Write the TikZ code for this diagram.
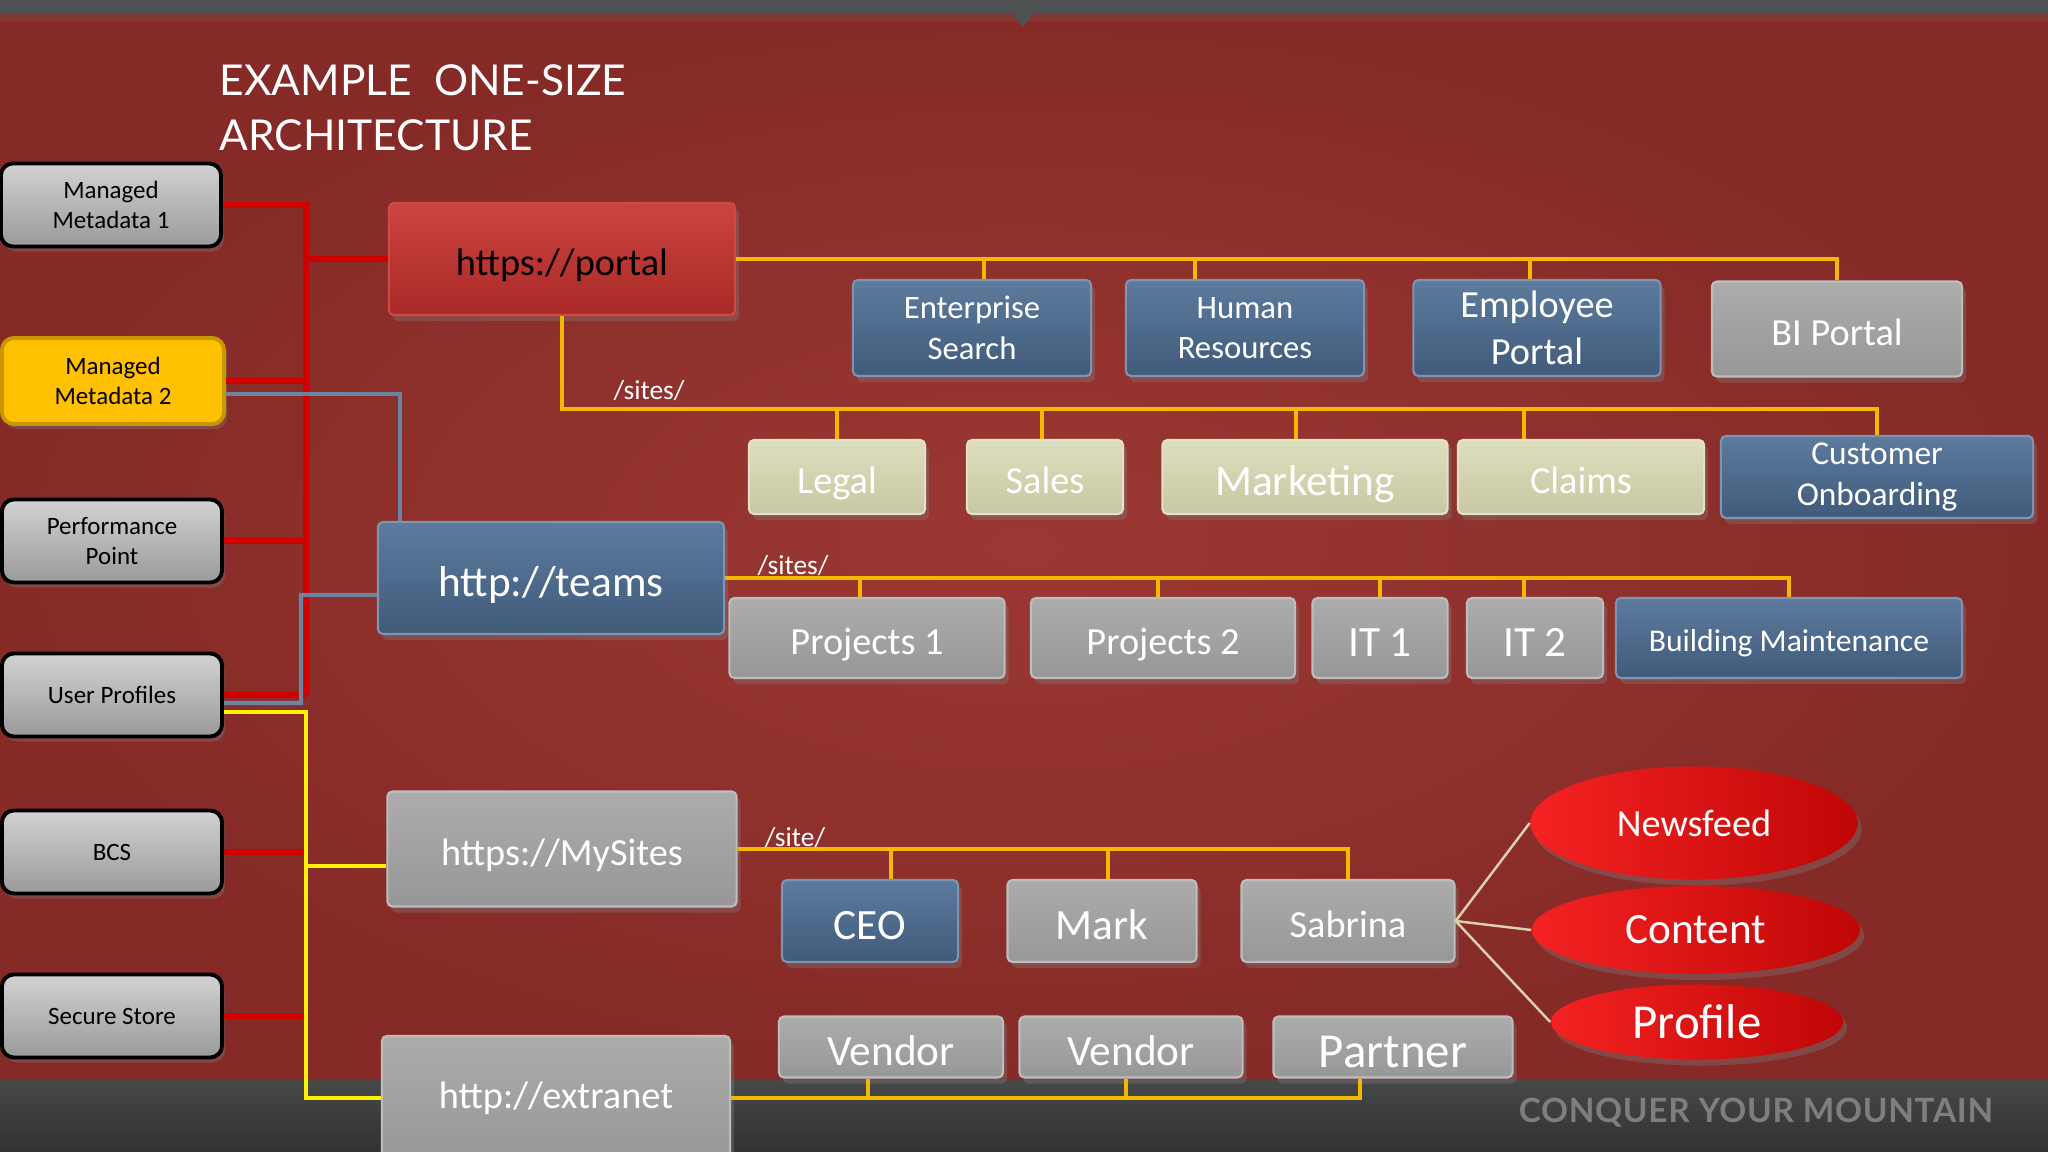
\documentclass[tikz,border=0pt]{standalone}
\usepackage{fontspec}
\setmainfont{Carlito}
\newfontfamily\titlefont{Lato}
\newfontfamily\footfont[LetterSpace=2]{Lato}
\usetikzlibrary{positioning,shapes.geometric,shadows}

\definecolor{bgred}{HTML}{8E2F2B}
\definecolor{bglight}{HTML}{9C3833}
\definecolor{bgdark}{HTML}{852A27}
\definecolor{topgray}{HTML}{4F5252}
\definecolor{bandtop}{HTML}{474949}
\definecolor{bandbot}{HTML}{303232}
\definecolor{lefttop}{HTML}{D2D2D2}
\definecolor{leftbot}{HTML}{9A9A9A}
\definecolor{mmgold}{HTML}{FFC000}
\definecolor{mmedge}{HTML}{C99700}
\definecolor{portaltop}{HTML}{CC4440}
\definecolor{portalbot}{HTML}{A92926}
\definecolor{portaledge}{HTML}{D04A45}
\definecolor{bluetop}{HTML}{5D7B9E}
\definecolor{bluebot}{HTML}{405A7A}
\definecolor{blueedge}{HTML}{7D95B3}
\definecolor{graytop}{HTML}{ACACAC}
\definecolor{graybot}{HTML}{979797}
\definecolor{grayedge}{HTML}{BDBDBD}
\definecolor{tantop}{HTML}{DEDDBD}
\definecolor{tanbot}{HTML}{C9C8A4}
\definecolor{tanedge}{HTML}{E2E2C8}
\definecolor{ovalleft}{HTML}{F52222}
\definecolor{ovalright}{HTML}{BF0606}
\definecolor{linkred}{HTML}{D00000}
\definecolor{linkblue}{HTML}{6B84A0}
\definecolor{linkyellow}{HTML}{FFF200}
\definecolor{busorange}{HTML}{F5B800}
\definecolor{linktan}{HTML}{DDD0B0}
\definecolor{footgray}{HTML}{7D7F7F}

\begin{document}
\begin{tikzpicture}[x=0.01cm, y=-0.01cm,
every node/.style={inner sep=0pt, align=center},
left node/.style={rectangle, rounded corners=0.12cm, draw=black, line width=1.1pt,
  top color=lefttop, bottom color=leftbot, text=black,
  minimum width=2.2cm, minimum height=0.83cm, font=\fontsize{7.1}{8.6}\selectfont,
  drop shadow={opacity=0.35, shadow xshift=0.03cm, shadow yshift=-0.05cm}},
site node/.style={rectangle, rounded corners=0.05cm, text=white, line width=0.6pt,
  drop shadow={opacity=0.35, shadow xshift=0.04cm, shadow yshift=-0.06cm}},
blue node/.style={site node, top color=bluetop, bottom color=bluebot, draw=blueedge},
gray node/.style={site node, top color=graytop, bottom color=graybot, draw=grayedge},
tan node/.style={site node, top color=tantop, bottom color=tanbot, draw=tanedge},
oval node/.style={ellipse, left color=ovalleft, right color=ovalright, text=white,
  drop shadow={opacity=0.35, shadow xshift=0.04cm, shadow yshift=-0.06cm}},
small text/.style={font=\fontsize{9.3}{11.5}\selectfont},
mid text/.style={font=\fontsize{10.9}{13.4}\selectfont},
large text/.style={font=\fontsize{12.3}{14}\selectfont},
huge text/.style={font=\fontsize{13.9}{16}\selectfont},
small line/.style={font=\fontsize{9}{11}\selectfont, text depth=0pt, text height=7.6pt},
mid line/.style={mid text, text depth=0pt, text height=9.2pt},
large line/.style={large text, text depth=0pt, text height=10.3pt},
huge line/.style={huge text, text depth=0pt, text height=11.7pt},
red link/.style={draw=linkred, line width=1.5pt},
blue link/.style={draw=linkblue, line width=1.15pt},
yellow link/.style={draw=linkyellow, line width=1.4pt},
bus link/.style={draw=busorange, line width=1.3pt},
drop link/.style={draw=busorange, line width=0.9pt},
tan link/.style={draw=linktan, line width=0.7pt},
path label/.style={text=white, font=\fontsize{7.8}{9}\selectfont}]

% canvas
\path[use as bounding box] (0,0) rectangle (2048,1152);
\clip (0,0) rectangle (2048,1152);
\fill[bgred] (0,0) rectangle (2048,1152);
\shade[inner color=bglight, outer color=bgdark] (0,14) rectangle (2048,1080);
\shade[top color=topgray, bottom color=bgred] (0,0) rectangle (2048,22);
\fill[topgray] (0,0) rectangle (2048,13);
\fill[topgray] (1011,12) -- (1035,12) -- (1023,27) -- cycle;
\shade[top color=bandtop, bottom color=bandbot] (0,1080) rectangle (2048,1152);

\node[anchor=north west, align=left, text=white,
  font=\titlefont\fontsize{12.1}{15.6}\selectfont] (title) at (219,64)
  {EXAMPLE\ \ ONE-SIZE\\ARCHITECTURE};
\node[text=footgray, font=\footfont\bfseries\fontsize{9.5}{11}\selectfont] (slogan) at (1756,1113)
  {CONQUER YOUR MOUNTAIN};

% service applications
\node[left node] (mm1) at (111,205) {Managed\\Metadata 1};
\node[left node, top color=mmgold, bottom color=mmgold, draw=mmedge,
  minimum width=2.22cm, minimum height=0.86cm] (mm2) at (113,381) {Managed\\Metadata 2};
\node[left node] (pp) at (112,541) {Performance\\Point};
\node[left node] (up) at (112,695) {User Profiles};
\node[left node] (bcs) at (112,852) {BCS};
\node[left node] (ss) at (112,1016) {Secure Store};

% web applications
\node[site node, top color=portaltop, bottom color=portalbot, draw=portaledge, text=black,
  mid line, minimum width=3.46cm, minimum height=1.12cm] (portal) at (562,259) {https://portal};
\node[blue node, large line, minimum width=3.46cm, minimum height=1.12cm] (teams) at (551,578) {http://teams};
\node[gray node, mid line, minimum width=3.49cm, minimum height=1.15cm] (mysites) at (562,849) {https://MySites};
\node[gray node, mid text, minimum width=3.48cm, minimum height=1.24cm] (extranet) at (556,1098) {http://extranet};

% portal sites
\node[blue node, small text, minimum width=2.38cm, minimum height=0.96cm] (es) at (972,328) {Enterprise\\Search};
\node[blue node, small text, minimum width=2.38cm, minimum height=0.96cm] (hr) at (1245,328) {Human\\Resources};
\node[blue node, mid text, minimum width=2.47cm, minimum height=0.96cm] (ep) at (1537,328) {Employee\\Portal};
\node[gray node, mid line, minimum width=2.5cm, minimum height=0.95cm] (bi) at (1837,329) {BI Portal};

\node[tan node, mid line, minimum width=1.76cm, minimum height=0.74cm] (legal) at (837,477) {Legal};
\node[tan node, mid line, minimum width=1.56cm, minimum height=0.74cm] (sales) at (1045,477) {Sales};
\node[tan node, large line, minimum width=2.85cm, minimum height=0.74cm] (mkt) at (1305,477) {Marketing};
\node[tan node, mid line, minimum width=2.46cm, minimum height=0.74cm] (claims) at (1581,477) {Claims};
\node[blue node, font=\fontsize{9.5}{11.9}\selectfont, minimum width=3.12cm, minimum height=0.82cm] (co) at (1877,477) {Customer\\Onboarding};

% team sites
\node[gray node, mid line, minimum width=2.75cm, minimum height=0.8cm] (p1) at (867,638) {Projects 1};
\node[gray node, mid line, minimum width=2.64cm, minimum height=0.8cm] (p2) at (1163,638) {Projects 2};
\node[gray node, large line, minimum width=1.35cm, minimum height=0.8cm] (it1) at (1380,638) {IT 1};
\node[gray node, large line, minimum width=1.36cm, minimum height=0.8cm] (it2) at (1535,638) {IT 2};
\node[blue node, small line, minimum width=3.46cm, minimum height=0.8cm] (bm) at (1789,638) {Building Maintenance};

% my sites
\node[blue node, large line, minimum width=1.76cm, minimum height=0.82cm] (ceo) at (870,921) {CEO};
\node[gray node, large line, minimum width=1.89cm, minimum height=0.82cm] (mark) at (1102,921) {Mark};
\node[gray node, mid line, minimum width=2.13cm, minimum height=0.82cm] (sabrina) at (1348,921) {Sabrina};

\node[oval node, mid text, minimum width=3.27cm, minimum height=1.13cm] (nf) at (1694,823) {Newsfeed};
\node[oval node, large text, minimum width=3.28cm, minimum height=0.88cm] (ct) at (1696,930) {Content};
\node[oval node, huge text, minimum width=2.92cm, minimum height=0.75cm] (pf) at (1697,1022) {Profile};

% extranet sites
\node[gray node, large line, minimum width=2.24cm, minimum height=0.61cm] (v1) at (891,1047) {Vendor};
\node[gray node, large line, minimum width=2.23cm, minimum height=0.61cm] (v2) at (1131,1047) {Vendor};
\node[gray node, huge line, minimum width=2.39cm, minimum height=0.61cm] (partner) at (1393,1047) {Partner};

% left side links
\coordinate (rbus) at (306,0);
\coordinate (bbus) at (301,595);
\draw[red link] (mm1.east) -| (rbus |- up.east);
\draw[red link] (portal.west) -- (portal.west -| rbus);
\foreach \x in {mm2,pp,up,bcs,ss}
\draw[red link] (\x.east) -- (\x.east -| rbus);
\draw[blue link] ([yshift=-0.13cm]mm2.east) -| ([xshift=0.23cm]teams.north west);
\draw[blue link] ([yshift=-0.08cm]up.east) -| (bbus) -- ([yshift=-0.17cm]teams.west);
\draw[yellow link] ([yshift=-0.17cm]up.east) -| (rbus |- extranet.west) -- (extranet.west);
\draw[yellow link] ([yshift=-0.17cm]mysites.west) -- ([yshift=-0.17cm]mysites.west -| rbus);

% site links
\draw[bus link] (portal.east) -| (bi.north);
\foreach \x/\s in {es/0.12,hr/-0.5,ep/-0.07}
\draw[drop link] ([xshift=\s cm]\x.north) -- ([xshift=\s cm]\x.north |- portal.east);

\coordinate (sitesbus) at (562,409);
\draw[bus link] (portal.south) -- (sitesbus) -| (co.north);
\foreach \x/\s in {legal/0,sales/-0.03,mkt/-0.09,claims/-0.57}
\draw[drop link] ([xshift=\s cm]\x.north) -- ([xshift=\s cm]\x.north |- sitesbus);
\node[path label, anchor=base] (sitestag) at (649,400) {/sites/};

\draw[bus link] (teams.east) -| (bm.north);
\foreach \x/\s in {p1/-0.07,p2/-0.05,it1/0,it2/-0.11}
\draw[drop link] ([xshift=\s cm]\x.north) -- ([xshift=\s cm]\x.north |- teams.east);
\node[path label, anchor=base] (teamstag) at (793,574) {/sites/};

\draw[bus link] (mysites.east) -| (sabrina.north);
\foreach \x/\s in {ceo/0.21,mark/0.06}
\draw[drop link] ([xshift=\s cm]\x.north) -- ([xshift=\s cm]\x.north |- mysites.east);
\node[path label, anchor=base] (sitetag) at (795,846) {/site/};

\draw[bus link] (extranet.east) -| ([xshift=-0.33cm]partner.south);
\foreach \x/\s in {v1/-0.23,v2/-0.05}
\draw[drop link] ([xshift=\s cm]\x.south) -- ([xshift=\s cm]\x.south |- extranet.east);

\foreach \x in {nf,ct,pf}
\draw[tan link] (sabrina.east) -- (\x.west);
\end{tikzpicture}
\end{document}
